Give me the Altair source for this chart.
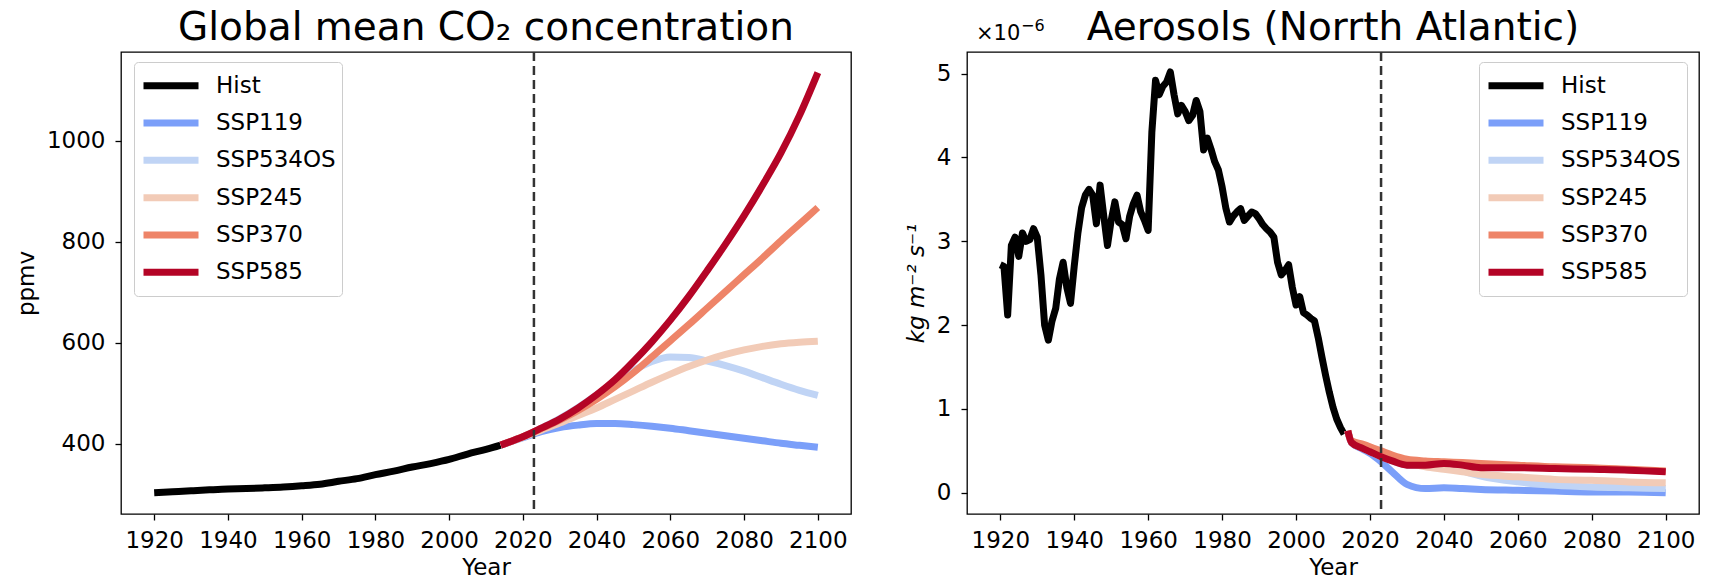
import altair as alt
import pandas as pd

FONT = "DejaVu Sans"
SERIES = ["Hist", "SSP119", "SSP534OS", "SSP245", "SSP370", "SSP585"]
COLORS = ["#000000", "#7b9ff9", "#c0d4f5", "#f2cbb7", "#ee8468", "#b40426"]
XTICKS = [1920, 1940, 1960, 1980, 2000, 2020, 2040, 2060, 2080, 2100]
REF_YEAR = 2023

# ---------------- CO2 (ppmv) ----------------
co2_hist_years = [1920, 1925, 1930, 1935, 1940, 1945, 1950, 1955, 1960, 1965,
                  1970, 1975, 1980, 1985, 1990, 1995, 2000, 2005, 2010, 2014]
co2_hist = [303.0, 305.0, 307.0, 308.8, 310.4, 311.3, 312.8, 314.5, 316.9, 320.0,
            325.7, 331.1, 338.9, 346.0, 354.0, 360.9, 369.1, 379.8, 389.0, 397.5]

co2_scen_years = [2014, 2020, 2025, 2030, 2035, 2040, 2045, 2050, 2055, 2060,
                  2065, 2070, 2075, 2080, 2085, 2090, 2095, 2100]
co2_ssp119 = [397.5, 412, 424, 432, 437, 440, 440, 438, 435, 431,
              426, 421, 416, 411, 406, 401, 397, 393]
co2_ssp534os = [397.5, 414, 431, 450, 472, 497, 522, 545, 563, 572,
                571, 564, 555, 544, 531, 518, 506, 496]
co2_ssp245 = [397.5, 413, 427, 441, 456, 471, 488, 505, 522, 538,
              553, 566, 577, 586, 593, 598, 601, 603]
co2_ssp370 = [397.5, 414, 430, 447, 466, 488, 513, 541, 572, 604,
              636, 669, 702, 735, 768, 802, 835, 868]
co2_ssp585 = [397.5, 414, 431, 449, 471, 497, 527, 563, 602, 645,
              692, 743, 796, 852, 912, 976, 1050, 1135]

# ---------------- Aerosols (x1e-6 kg m-2 s-1) ----------------
aer_hist_years = list(range(1920, 2014))
aer_hist = [2.72, 2.70, 2.12, 2.95, 3.05, 2.82, 3.10, 3.00, 3.02, 3.15,
            3.05, 2.60, 2.00, 1.82, 2.05, 2.20, 2.55, 2.75, 2.45, 2.26,
            2.70, 3.10, 3.40, 3.55, 3.62, 3.55, 3.21, 3.67, 3.30, 2.95,
            3.25, 3.47, 3.23, 3.20, 3.03, 3.30, 3.45, 3.55, 3.35, 3.25,
            3.13, 4.30, 4.92, 4.75, 4.85, 4.90, 5.02, 4.75, 4.52, 4.62,
            4.55, 4.44, 4.50, 4.68, 4.55, 4.09, 4.23, 4.10, 3.95, 3.85,
            3.65, 3.40, 3.23, 3.30, 3.35, 3.39, 3.25, 3.30, 3.35, 3.33,
            3.27, 3.20, 3.15, 3.11, 3.05, 2.75, 2.60, 2.65, 2.72, 2.45,
            2.24, 2.34, 2.15, 2.12, 2.08, 2.05, 1.85, 1.62, 1.40, 1.20,
            1.02, 0.88, 0.78, 0.70]

aer_scen_years = [2014, 2015, 2018, 2020, 2023, 2026, 2030, 2035, 2040, 2045,
                  2050, 2060, 2070, 2080, 2090, 2100]
aer_ssp119 = [0.74, 0.60, 0.52, 0.47, 0.37, 0.25, 0.10, 0.05, 0.06, 0.05,
              0.04, 0.03, 0.02, 0.01, 0.01, 0.00]
aer_ssp534os = [0.74, 0.60, 0.53, 0.49, 0.43, 0.38, 0.33, 0.33, 0.34, 0.26,
                0.20, 0.13, 0.09, 0.07, 0.06, 0.05]
aer_ssp245 = [0.74, 0.60, 0.55, 0.51, 0.46, 0.41, 0.36, 0.31, 0.28, 0.25,
              0.22, 0.19, 0.16, 0.15, 0.13, 0.12]
aer_ssp370 = [0.74, 0.62, 0.58, 0.55, 0.50, 0.45, 0.40, 0.38, 0.37, 0.36,
              0.35, 0.33, 0.31, 0.30, 0.28, 0.26]
aer_ssp585 = [0.74, 0.60, 0.53, 0.49, 0.43, 0.38, 0.33, 0.33, 0.35, 0.33,
              0.30, 0.30, 0.29, 0.28, 0.27, 0.25]


def make_df(hist_years, hist_vals, scen_years, scen_lists):
    rows = [{"year": yr, "value": v, "series": "Hist"} for yr, v in zip(hist_years, hist_vals)]
    for name, vals in zip(SERIES[1:], scen_lists):
        rows += [{"year": yr, "value": v, "series": name} for yr, v in zip(scen_years, vals)]
    return pd.DataFrame(rows)


co2_df = make_df(co2_hist_years, co2_hist, co2_scen_years,
                 [co2_ssp119, co2_ssp534os, co2_ssp245, co2_ssp370, co2_ssp585])
aer_df = make_df(aer_hist_years, aer_hist, aer_scen_years,
                 [aer_ssp119, aer_ssp534os, aer_ssp245, aer_ssp370, aer_ssp585])

H = 462
LW = 7


def text_layer(txt, size, xpx, ypx, align="center", style="normal"):
    return (
        alt.Chart(pd.DataFrame({"t": [txt]}))
        .mark_text(align=align, baseline="alphabetic", fontSize=size, font=FONT,
                   color="black", fontStyle=style)
        .encode(text="t:N", x=alt.value(xpx), y=alt.value(ypx))
    )


def panel(df, width, ydomain, yticks, ytitle, title, legend_x, hist_interp,
          italic_title=False):
    x = alt.X("year:Q", scale=alt.Scale(domain=[1911, 2109], nice=False, zero=False),
              axis=alt.Axis(values=XTICKS, format="d", title="Year"))
    y = alt.Y("value:Q", scale=alt.Scale(domain=ydomain, nice=False, zero=False),
              axis=alt.Axis(values=yticks, format="d", title=ytitle,
                            titleFontStyle="italic" if italic_title else "normal"))
    color = alt.Color("series:N",
                      scale=alt.Scale(domain=SERIES, range=COLORS),
                      legend=alt.Legend(title=None, orient="none", legendX=legend_x, legendY=10,
                                        symbolType="stroke", symbolStrokeWidth=LW,
                                        symbolSize=3025, labelFontSize=23, labelFont=FONT,
                                        labelColor="black", padding=6, rowPadding=1.3,
                                        clipHeight=35.5, strokeColor="#cccccc",
                                        cornerRadius=4, fillColor="white",
                                        labelOffset=14))
    layers = []
    for s in SERIES:
        interp = hist_interp if s == "Hist" else "monotone"
        layers.append(
            alt.Chart(df)
            .transform_filter(alt.datum.series == s)
            .mark_line(strokeWidth=LW, interpolate=interp, strokeJoin="round")
            .encode(x=x, y=y, color=color)
        )
    rule = (
        alt.Chart(pd.DataFrame({"year": [REF_YEAR]}))
        .mark_rule(strokeDash=[9, 5], color="#333333", strokeWidth=2.5)
        .encode(x=x)
    )
    ttl = text_layer(title, 39, width / 2, -12)
    return alt.layer(*layers, rule, ttl).properties(width=width, height=H)


left = panel(co2_df, 730, [261, 1176], [400, 600, 800, 1000], "ppmv",
             "Global mean CO\u2082 concentration", 13, "monotone")

right = panel(aer_df, 732, [-0.253, 5.258], [0, 1, 2, 3, 4, 5],
              "kg m\u207b\u00b2 s\u207b\u00b9", "Aerosols (Norrth Atlantic)",
              512, "linear", italic_title=True)
right = alt.layer(right,
                  text_layer("\u00d710", 21, 9, -12, align="left"),
                  text_layer("\u22126", 16, 54, -21, align="left"))

chart = (
    alt.hconcat(left, right, spacing=52)
    .resolve_scale(color="independent", y="independent")
    .resolve_legend(color="independent")
    .properties(padding={"left": 6, "top": 0, "right": 0, "bottom": 0})
    .configure_view(stroke="black", strokeWidth=1.3)
    .configure_axis(labelFont=FONT, titleFont=FONT, labelFontSize=23, titleFontSize=23,
                    labelColor="black", titleColor="black", grid=False, domain=False,
                    tickColor="black", tickSize=6, tickWidth=1.3, titleFontWeight="normal",
                    labelPadding=10)
    .configure_axisX(titlePadding=4, labelPadding=9)
    .configure_axisY(titlePadding=8)
)

chart.save("out.html", embed_options={"renderer": "svg", "actions": False})
